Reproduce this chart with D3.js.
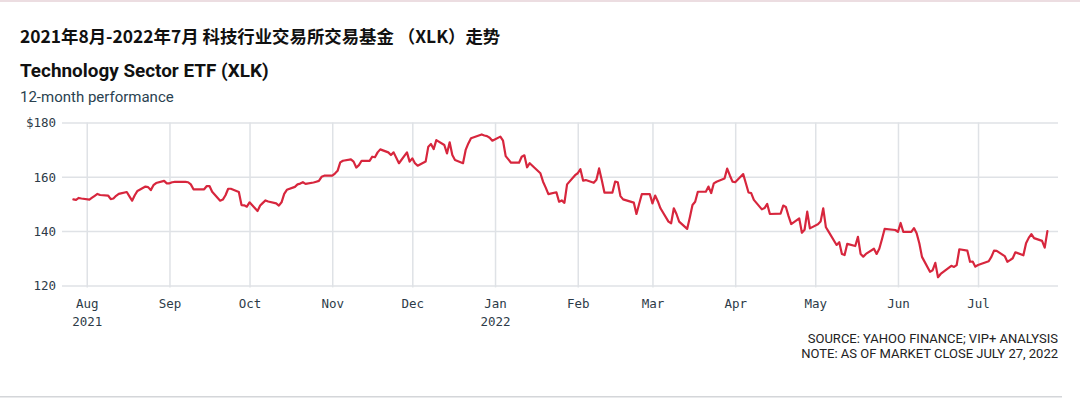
<!DOCTYPE html>
<html>
<head>
<meta charset="utf-8">
<script src="https://cdn.jsdelivr.net/npm/d3@7"></script>
<style>
  html, body { margin: 0; padding: 0; background: #fff; }
  svg { display: block; }
</style>
</head>
<body>
<svg id="chart" width="1080" height="400"></svg>
<script>
// ---------- DATA ----------
const titleZh = "2021年8月-2022年7月 科技行业交易所交易基金 （XLK）走势";
const titleEn = "Technology Sector ETF (XLK)";
const subtitle = "12-month performance";
const notes = ["SOURCE: YAHOO FINANCE; VIP+ ANALYSIS", "NOTE: AS OF MARKET CLOSE JULY 27, 2022"];

const yTicks = [120, 140, 160, 180];
const monthTicks = ["2021-08-01","2021-09-01","2021-10-01","2021-11-01","2021-12-01","2022-01-01",
                    "2022-02-01","2022-03-01","2022-04-01","2022-05-01","2022-06-01","2022-07-01"];
const monthLabels = ["Aug","Sep","Oct","Nov","Dec","Jan","Feb","Mar","Apr","May","Jun","Jul"];
const yearLabels  = ["2021","","","","","2022","","","","","",""];

const dates = [
"2021-07-27","2021-07-28","2021-07-29","2021-07-30",
"2021-08-02","2021-08-03","2021-08-04","2021-08-05","2021-08-06","2021-08-09","2021-08-10","2021-08-11","2021-08-12","2021-08-13",
"2021-08-16","2021-08-17","2021-08-18","2021-08-19","2021-08-20","2021-08-23","2021-08-24","2021-08-25","2021-08-26","2021-08-27",
"2021-08-30","2021-08-31","2021-09-01","2021-09-02","2021-09-03","2021-09-07","2021-09-08","2021-09-09","2021-09-10",
"2021-09-13","2021-09-14","2021-09-15","2021-09-16","2021-09-17","2021-09-20","2021-09-21","2021-09-22","2021-09-23","2021-09-24",
"2021-09-27","2021-09-28","2021-09-29","2021-09-30","2021-10-01","2021-10-04","2021-10-05","2021-10-06","2021-10-07","2021-10-08",
"2021-10-11","2021-10-12","2021-10-13","2021-10-14","2021-10-15","2021-10-18","2021-10-19","2021-10-20","2021-10-21","2021-10-22",
"2021-10-25","2021-10-26","2021-10-27","2021-10-28","2021-10-29","2021-11-01","2021-11-02","2021-11-03","2021-11-04","2021-11-05",
"2021-11-08","2021-11-09","2021-11-10","2021-11-11","2021-11-12","2021-11-15","2021-11-16","2021-11-17","2021-11-18","2021-11-19",
"2021-11-22","2021-11-23","2021-11-24","2021-11-26","2021-11-29","2021-11-30","2021-12-01","2021-12-02","2021-12-03",
"2021-12-06","2021-12-07","2021-12-08","2021-12-09","2021-12-10","2021-12-13","2021-12-14","2021-12-15","2021-12-16","2021-12-17",
"2021-12-20","2021-12-21","2021-12-22","2021-12-23","2021-12-27","2021-12-28","2021-12-29","2021-12-30","2021-12-31",
"2022-01-03","2022-01-04","2022-01-05","2022-01-06","2022-01-07","2022-01-10","2022-01-11","2022-01-12","2022-01-13","2022-01-14",
"2022-01-18","2022-01-19","2022-01-20","2022-01-21","2022-01-24","2022-01-25","2022-01-26","2022-01-27","2022-01-28",
"2022-01-31","2022-02-01","2022-02-02","2022-02-03","2022-02-04","2022-02-07","2022-02-08","2022-02-09","2022-02-10","2022-02-11",
"2022-02-14","2022-02-15","2022-02-16","2022-02-17","2022-02-18","2022-02-22","2022-02-23","2022-02-24","2022-02-25",
"2022-02-28","2022-03-01","2022-03-02","2022-03-03","2022-03-04","2022-03-07","2022-03-08","2022-03-09","2022-03-10","2022-03-11",
"2022-03-14","2022-03-15","2022-03-16","2022-03-17","2022-03-18","2022-03-21","2022-03-22","2022-03-23","2022-03-24","2022-03-25",
"2022-03-28","2022-03-29","2022-03-30","2022-03-31","2022-04-01","2022-04-04","2022-04-05","2022-04-06","2022-04-07","2022-04-08",
"2022-04-11","2022-04-12","2022-04-13","2022-04-14","2022-04-18","2022-04-19","2022-04-20","2022-04-21","2022-04-22",
"2022-04-25","2022-04-26","2022-04-27","2022-04-28","2022-04-29","2022-05-02","2022-05-03","2022-05-04","2022-05-05","2022-05-06",
"2022-05-09","2022-05-10","2022-05-11","2022-05-12","2022-05-13","2022-05-16","2022-05-17","2022-05-18","2022-05-19","2022-05-20",
"2022-05-23","2022-05-24","2022-05-25","2022-05-26","2022-05-27","2022-05-31","2022-06-01","2022-06-02","2022-06-03",
"2022-06-06","2022-06-07","2022-06-08","2022-06-09","2022-06-10","2022-06-13","2022-06-14","2022-06-15","2022-06-16","2022-06-17",
"2022-06-21","2022-06-22","2022-06-23","2022-06-24","2022-06-27","2022-06-28","2022-06-29","2022-06-30","2022-07-01",
"2022-07-05","2022-07-06","2022-07-07","2022-07-08","2022-07-11","2022-07-12","2022-07-13","2022-07-14","2022-07-15",
"2022-07-18","2022-07-19","2022-07-20","2022-07-21","2022-07-22","2022-07-25","2022-07-26","2022-07-27"
];

const prices = [
151.7,151.5,152.2,152.0,
151.6,152.3,153.0,153.7,153.3,153.1,151.8,152.0,153.0,153.7,
154.4,152.8,151.2,153.2,154.8,156.4,156.2,155.1,156.9,157.7,
158.5,157.6,157.6,158.0,158.1,158.1,158.0,157.2,155.4,
155.4,155.4,156.6,156.6,154.5,151.2,151.6,153.2,155.6,155.6,
154.4,149.6,149.5,149.0,150.6,147.4,149.4,150.4,151.3,150.9,
150.2,149.4,150.6,153.7,155.2,156.3,157.2,157.5,158.0,157.4,
157.9,158.2,158.5,160.0,160.4,160.4,161.2,162.2,165.3,165.9,
166.4,165.6,163.4,164.3,165.9,165.9,167.4,167.2,169.0,170.1,
169.0,168.0,169.0,165.0,169.0,165.6,166.8,165.0,164.1,
165.6,171.1,172.1,170.2,173.5,171.7,168.6,172.7,168.0,166.2,
165.0,169.9,172.3,174.2,175.6,175.2,175.0,174.4,173.3,
174.8,173.3,167.6,166.4,165.2,165.2,167.4,167.9,163.5,165.0,
161.3,158.2,156.0,153.6,154.3,150.8,151.3,150.4,157.2,
160.6,161.3,162.8,158.6,158.8,157.8,158.9,163.1,158.8,154.2,
154.2,158.2,158.0,152.9,151.7,150.5,146.3,150.0,153.6,
153.6,150.2,153.1,151.0,148.4,143.5,142.9,148.4,146.3,143.5,
140.8,145.0,149.6,150.8,154.5,154.5,156.4,154.0,157.6,158.2,
159.4,163.0,160.5,158.2,158.0,161.0,157.6,154.2,154.0,151.5,
148.0,148.5,150.0,146.3,146.4,149.4,148.9,145.5,142.6,
144.7,139.4,140.5,147.2,141.0,142.5,143.5,148.4,141.4,139.8,
134.9,135.9,131.6,131.2,135.3,134.5,137.9,131.6,130.6,131.6,
133.5,131.6,133.5,137.0,140.8,140.4,139.7,143.0,139.7,
139.7,141.1,139.2,135.5,130.5,125.0,125.6,128.3,123.0,124.2,
127.2,126.8,127.5,133.3,132.8,128.7,128.8,126.9,127.5,
128.9,130.5,132.8,132.7,130.8,128.7,129.3,130.0,132.2,
131.1,135.5,137.5,138.9,137.4,136.4,133.9,140.0
];

// ---------- DRAW ----------
const svg = d3.select("#chart");
const parse = d3.timeParse("%Y-%m-%d");
const series = dates.map((d, i) => ({ date: parse(d), value: prices[i] }));

const gridLeft = 62, gridRight = 1058;
const x = d3.scaleTime()
  .domain([parse("2021-07-27"), parse("2022-07-27")])
  .range([73.4, 1047.4]);
const y = d3.scaleLinear().domain([120, 180]).range([285.4, 122.5]);

const axisColor = "#2d3b48";
const gridColor = "#dfe2e6";
const monoFont = "'DejaVu Sans Mono', 'Liberation Mono', monospace";

// top & bottom rules
svg.append("rect").attr("x", 0).attr("y", 0).attr("width", 1080).attr("height", 2).attr("fill", "#ecdde1");
svg.append("rect").attr("x", 0).attr("y", 396).attr("width", 1062).attr("height", 1.5).attr("fill", "#d4d6d9");

// titles
svg.append("text").attr("x", 20).attr("y", 43)
  .attr("font-family", "'Noto Sans CJK SC', 'Noto Sans', sans-serif")
  .attr("font-weight", 700).attr("font-size", 17.4).attr("fill", "#111")
  .text(titleZh);
svg.append("text").attr("x", 20).attr("y", 77)
  .attr("font-family", "Roboto, 'Noto Sans', sans-serif")
  .attr("font-weight", 700).attr("font-size", 18.9).attr("fill", "#111")
  .text(titleEn);
svg.append("text").attr("x", 20).attr("y", 102)
  .attr("font-family", "Roboto, 'Noto Sans', sans-serif")
  .attr("font-size", 15).attr("fill", "#2a4250")
  .text(subtitle);

// horizontal grid + y labels
const yAxis = d3.axisLeft(y).tickValues(yTicks)
  .tickSize(-(gridRight - gridLeft))
  .tickPadding(6)
  .tickFormat(d => d === 180 ? "$" + d : d);
const gy = svg.append("g").attr("transform", `translate(${gridLeft},0)`).call(yAxis);
gy.select(".domain").remove();
gy.selectAll(".tick line").attr("stroke", gridColor).attr("stroke-width", 1.5);
gy.selectAll(".tick text")
  .attr("font-family", monoFont)
  .attr("font-size", 12.5).attr("fill", axisColor).attr("dy", "0.35em");

// vertical grid + x labels
const tickDates = monthTicks.map(parse);
const xAxis = d3.axisBottom(x).tickValues(tickDates)
  .tickSize(y(120) - y(180) + 2)
  .tickPadding(0)
  .tickFormat((d, i) => monthLabels[i]);
const gx = svg.append("g").attr("transform", `translate(0,${y(180)})`).call(xAxis);
gx.select(".domain").remove();
gx.selectAll(".tick line").attr("stroke", gridColor).attr("stroke-width", 1.5);
gx.selectAll(".tick text")
  .attr("font-family", monoFont)
  .attr("font-size", 12.5).attr("fill", axisColor)
  .attr("y", 308 - y(180)).attr("dy", 0);
gx.selectAll(".tick").each(function(d, i) {
  if (yearLabels[i]) {
    d3.select(this).append("text")
      .attr("y", 326 - y(180)).attr("text-anchor", "middle")
      .attr("font-family", monoFont)
      .attr("font-size", 12.5).attr("fill", axisColor)
      .text(yearLabels[i]);
  }
});

// line
const line = d3.line().x(d => x(d.date)).y(d => y(d.value)).curve(d3.curveLinear);
svg.append("path").datum(series)
  .attr("d", line).attr("fill", "none")
  .attr("stroke", "#d7263d").attr("stroke-width", 2.2)
  .attr("stroke-linejoin", "round").attr("stroke-linecap", "round");

// notes
notes.forEach((t, i) => {
  svg.append("text").attr("x", 1058).attr("y", 343 + i * 14.5)
    .attr("text-anchor", "end")
    .attr("font-family", "Roboto, 'Noto Sans', sans-serif")
    .attr("font-size", 13).attr("fill", "#222")
    .text(t);
});
</script>
</body>
</html>
